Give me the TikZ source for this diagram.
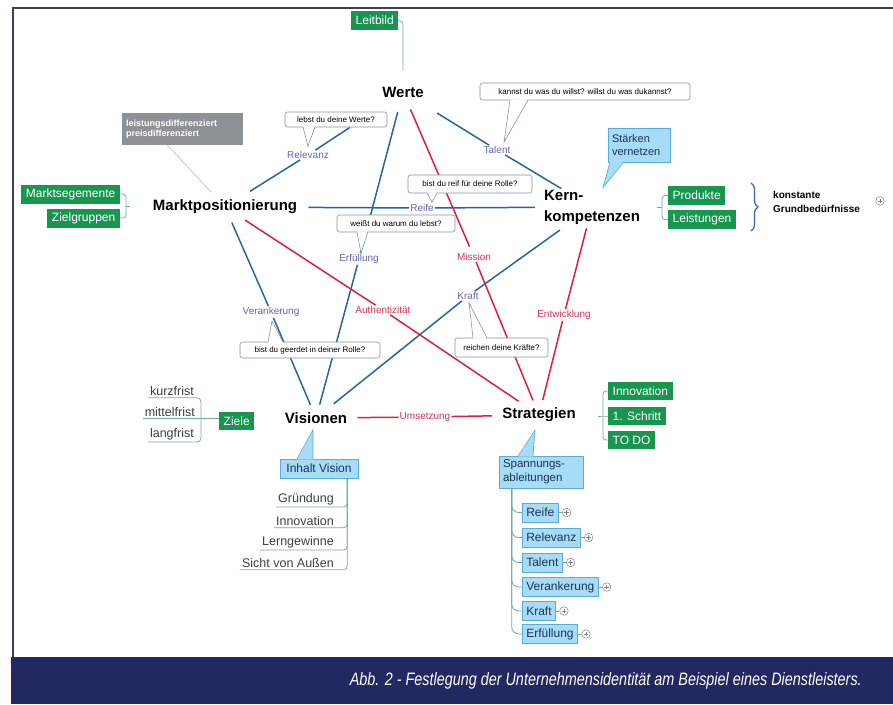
\documentclass[tikz,border=0pt]{standalone}
\usepackage{fontspec}
\setmainfont{Liberation Sans}
\usepackage{graphicx}
\usetikzlibrary{calc,decorations.pathreplacing}
\pgfdeclarelayer{bg}
\pgfsetlayers{bg,main}
\definecolor{navy}{RGB}{34,40,96}
\definecolor{framec}{RGB}{58,62,105}
\definecolor{mmgreen}{RGB}{24,150,80}
\definecolor{lbfill}{RGB}{166,220,246}
\definecolor{lbdraw}{RGB}{90,170,220}
\definecolor{lbtext}{RGB}{30,50,90}
\definecolor{greybox}{RGB}{140,145,150}
\definecolor{lineblue}{RGB}{40,100,160}
\definecolor{linered}{RGB}{225,30,60}
\definecolor{lblblue}{RGB}{100,100,180}
\definecolor{lblred}{RGB}{215,50,80}
\definecolor{callgrey}{RGB}{130,150,160}
\definecolor{treeline}{RGB}{110,175,150}
\definecolor{braceblue}{RGB}{50,100,190}
\definecolor{itemtext}{RGB}{60,60,60}
\begin{document}
\begin{tikzpicture}[x=1pt,y=-1pt,
  topic/.style={font=\bfseries\fontsize{15}{21}\selectfont, inner sep=1pt},
  bl/.style={font=\fontsize{10}{12}\selectfont, text=lblblue, inner sep=1pt},
  rl/.style={font=\fontsize{10}{12}\selectfont, text=lblred, inner sep=1pt},
  callbox/.style={draw=callgrey, fill=white, rounded corners=2.5pt, line width=0.6pt, font=\fontsize{8}{10}\selectfont, inner sep=1pt},
  gbox/.style={fill=mmgreen, text=white, font=\fontsize{12}{14}\selectfont, inner xsep=4.5pt, inner ysep=1pt, minimum height=19pt},
  lbox/.style={fill=lbfill, draw=lbdraw, line width=0.6pt, text=lbtext, font=\fontsize{12}{14}\selectfont, inner xsep=4pt, inner ysep=1pt, minimum height=19pt},
  bline/.style={draw=lineblue, line width=1.5pt},
  rline/.style={draw=linered, line width=1.5pt},
  tree/.style={draw=treeline, line width=0.8pt},
  listitem/.style={text=itemtext, font=\fontsize{12.5}{14}\selectfont, inner sep=2pt},
  plusmark/.style={circle, draw=gray, fill=white, line width=0.5pt, minimum size=8.5pt, inner sep=0pt,
    path picture={\draw[gray,line width=0.5pt] ([xshift=-2.2pt]path picture bounding box.center) -- ([xshift=2.2pt]path picture bounding box.center) ([yshift=-2.2pt]path picture bounding box.center) -- ([yshift=2.2pt]path picture bounding box.center);}},
  ptr/.style={draw=callgrey, line width=0.6pt},
  bptr/.style={draw=lbdraw, line width=0.6pt}
]
\useasboundingbox (0,0) rectangle (893,704);
% frame and caption band
\fill[navy] (11,657) rectangle (893,704);
\draw[framec, line width=2pt] (13,657) -- (13,8) -- (893,8);
\node[anchor=base east, text=white, font=\itshape\fontsize{18}{20}\selectfont, inner sep=0pt] (cap) at (862,685) {\scalebox{0.80}[1]{Abb. 2 - Festlegung der Unternehmensidentität am Beispiel eines Dienstleisters.}};

% main topics
\node[topic] (werte) at (403,92) {Werte};
\node[topic] (mp) at (225,207) {Marktpositionierung};
\node[topic, align=left] (kern) at (592,207) {Kern-\\kompetenzen};
\node[topic] (vis) at (316,418) {Visionen};
\node[topic] (str) at (539,415) {Strategien};

% relationship labels
\node[bl] (relevanz) at (308,155) {Relevanz};
\node[bl] (talent) at (497,150) {Talent};
\node[bl] (reife) at (422,208) {Reife};
\node[bl] (erf) at (359,259) {Erfüllung};
\node[bl] (ver) at (271,312) {Verankerung};
\node[bl] (kraft) at (468,296) {Kraft};
\node[rl] (mission) at (474,257) {Mission};
\node[rl] (auth) at (383,310) {Authentizität};
\node[rl] (entw) at (564,315) {Entwicklung};
\node[rl] (ums) at (425,417) {Umsetzung};

% question callouts
\node[callbox, minimum width=102pt, minimum height=15pt] (lebst) at (336,119.5) {lebst du deine Werte?};
\node[callbox, minimum width=210pt, minimum height=17pt] (kannst) at (585,91.5) {kannst du was du willst? willst du was dukannst?};
\node[callbox, minimum width=124pt, minimum height=18pt] (reifeq) at (470,184) {bist du reif für deine Rolle?};
\node[callbox, minimum width=118pt, minimum height=17pt] (warum) at (396,223.5) {weißt du warum du lebst?};
\node[callbox, minimum width=140pt, minimum height=16pt] (geerdet) at (310,350) {bist du geerdet in deiner Rolle?};
\node[callbox, minimum width=93pt, minimum height=19pt] (kraefte) at (501.5,347.5) {reichen deine Kräfte?};

% grey box
\node[fill=greybox, text=white, font=\bfseries\fontsize{9}{10.5}\selectfont, align=left, text width=113pt, minimum height=32pt, inner sep=4pt] (diff) at (182.5,129) {leistungsdifferenziert\\preisdifferenziert};

% green boxes
\node[gbox, anchor=west] (leitbild) at (351,20.5) {Leitbild};
\node[gbox, anchor=east] (msg) at (120,194) {Marktsegemente};
\node[gbox, anchor=east] (zg) at (120,218) {Zielgruppen};
\node[gbox, anchor=west] (prod) at (668,195.5) {Produkte};
\node[gbox, anchor=west] (leist) at (668,219.5) {Leistungen};
\node[gbox, anchor=west, minimum height=18pt] (ziele) at (219,421) {Ziele};
\node[gbox, anchor=west, minimum height=18pt] (innov) at (608,391) {Innovation};
\node[gbox, anchor=west, minimum height=18pt] (schritt) at (608,416) {1. Schritt};
\node[gbox, anchor=west, minimum height=18pt] (todo) at (608,440) {TO DO};

% konstante Grundbeduerfnisse
\node[font=\bfseries\fontsize{10}{13.5}\selectfont, align=left, anchor=west, inner sep=0pt] (konst) at (773,202) {konstante\\Grundbedürfnisse};
\node[plusmark] (pmk) at (880,201) {};
\draw[braceblue, line width=1.2pt, decorate, decoration={brace, amplitude=7pt}] (751,183) -- (751,231);

% light blue callouts
\node[lbox, align=left, font=\fontsize{11}{13}\selectfont, text width=54pt, minimum height=34pt] (staerken) at (639,145) {Stärken\\vernetzen};
\node[lbox, minimum width=78pt] (ivis) at (319,468.5) {Inhalt Vision};
\node[lbox, align=left, font=\fontsize{11.5}{14}\selectfont, text width=76pt, minimum height=32pt] (spann) at (541,472) {Spannungs-\\ableitungen};

% Spannungsableitungen items
\node[lbox, anchor=west] (s1) at (522,512.5) {Reife};
\node[lbox, anchor=west] (s2) at (522,537.5) {Relevanz};
\node[lbox, anchor=west] (s3) at (522,562.5) {Talent};
\node[lbox, anchor=west] (s4) at (522,587) {Verankerung};
\node[lbox, anchor=west] (s5) at (522,611) {Kraft};
\node[lbox, anchor=west] (s6) at (522,634) {Erfüllung};
\foreach \i in {1,...,6}{
  \node[plusmark] (p\i) at ([xshift=8pt]s\i.east) {};
  \draw[tree] (s\i) -- (p\i);
}

% Ziele items
\node[listitem, anchor=east] (kurz) at (196,391) {kurzfrist};
\node[listitem, anchor=east] (mittel) at (197,412) {mittelfrist};
\node[listitem, anchor=east] (lang) at (196,434) {langfrist};

% Vision items
\node[listitem, anchor=east] (gr) at (336,499) {Gründung};
\node[listitem, anchor=east] (inn) at (336,521) {Innovation};
\node[listitem, anchor=east] (lern) at (336,542) {Lerngewinne};
\node[listitem, anchor=east] (sicht) at (336,563) {Sicht von Außen};

% relationship lines
\begin{pgfonlayer}{bg}
\draw[bline, shorten <=28pt] (werte) -- (talent);
\draw[bline] (talent) -- (kern);
\draw[bline, shorten <=14pt] (mp) -- (relevanz);
\draw[bline] (relevanz) -- ([xshift=14pt]lebst.south);
\draw[bline, shorten <=14pt] (werte) -- (erf);
\draw[bline, shorten >=7pt] (erf) -- (vis);
\draw[bline, shorten <=8pt] (mp) -- (ver);
\draw[bline, shorten >=7pt] (ver) -- (vis);
\draw[bline, shorten <=8pt] (kern) -- (kraft);
\draw[bline, shorten >=12pt] (kraft) -- (vis);
\draw[bline, shorten <=10pt] (mp) -- (reife);
\draw[bline, shorten >=8pt] (reife) -- (kern);
\draw[rline, shorten <=12pt, shorten >=6pt] (werte) -- (mission);
\draw[rline, shorten >=7pt] (mission) -- (str);
\draw[rline, shorten <=9pt] (mp) -- (auth);
\draw[rline, shorten >=10pt] (auth) -- (str);
\draw[rline, shorten <=3pt] (kern) -- (entw);
\draw[rline, shorten >=7pt] (entw) -- (str);
\draw[rline, shorten <=9pt] (vis) -- (ums);
\draw[rline, shorten >=9pt] (ums) -- (str);
\draw[tree, rounded corners=4pt, shorten >=15pt] (leitbild.east) -| (werte.north);
\draw[gray!45, line width=0.8pt, shorten >=9pt] ([xshift=-15pt]diff.south) -- (mp);
\end{pgfonlayer}

% tree brackets
\coordinate (mb) at (126,206);
\draw[tree, rounded corners=3pt] (msg.east) -| (mb) |- (zg.east);
\draw[tree] (mb) -- ++(4,0);
\coordinate (kb) at (662,207.5);
\draw[tree, rounded corners=3pt] (prod.west) -| (kb) |- (leist.west);
\draw[tree] (kb) -- ++(-5,0);
\coordinate (sb) at (603,416);
\draw[tree, rounded corners=3pt] (innov.west) -| (sb) |- (todo.west);
\draw[tree] (schritt.west) -- (sb) -- ++(-5,0);
\coordinate (zx) at (201,420);
\draw[tree, rounded corners=4pt] (kurz.south west) -- (kurz.south -| zx) |- (lang.south west);
\draw[tree] (mittel.south west) -- (mittel.south -| ziele.west);
\coordinate (vx) at ([xshift=-11pt]ivis.south east);
\foreach \n in {gr,inn,lern,sicht}{
  \draw[tree, rounded corners=4pt] (vx) |- (\n.south west);
}
\coordinate (sx) at ([xshift=13pt]spann.south west);
\foreach \i in {1,...,6}{
  \draw[tree, rounded corners=7pt] (sx) |- (s\i.west);
}

% callout pointers (white)
\fill[white] ([xshift=-33pt,yshift=1pt]lebst.south) -- ([yshift=4pt]relevanz.north) -- ([xshift=-21pt,yshift=1pt]lebst.south) -- cycle;
\draw[ptr] ([xshift=-33pt,yshift=0.3pt]lebst.south) -- ([yshift=4pt]relevanz.north) -- ([xshift=-21pt,yshift=0.3pt]lebst.south);
\fill[white] ([xshift=-75pt,yshift=1pt]kannst.south) -- ([xshift=7pt,yshift=3pt]talent.north) -- ([xshift=-57pt,yshift=1pt]kannst.south) -- cycle;
\draw[ptr] ([xshift=-75pt,yshift=0.3pt]kannst.south) -- ([xshift=7pt,yshift=3pt]talent.north) -- ([xshift=-57pt,yshift=0.3pt]kannst.south);
\fill[white] ([xshift=-43pt,yshift=1pt]reifeq.south) -- ([xshift=10pt,yshift=1pt]reife.north) -- ([xshift=-33pt,yshift=1pt]reifeq.south) -- cycle;
\draw[ptr] ([xshift=-43pt,yshift=0.3pt]reifeq.south) -- ([xshift=10pt,yshift=1pt]reife.north) -- ([xshift=-33pt,yshift=0.3pt]reifeq.south);
\fill[white] ([xshift=-39pt,yshift=1pt]warum.south) -- ([xshift=2pt]erf.north) -- ([xshift=-28pt,yshift=1pt]warum.south) -- cycle;
\draw[ptr] ([xshift=-39pt,yshift=0.3pt]warum.south) -- ([xshift=2pt]erf.north) -- ([xshift=-28pt,yshift=0.3pt]warum.south);
\fill[white] ([xshift=-42pt,yshift=-1pt]geerdet.north) rectangle ([xshift=-27pt,yshift=1pt]geerdet.north);
\draw[ptr] ([xshift=-42pt,yshift=-0.3pt]geerdet.north) -- ([xshift=1pt,yshift=-3pt]ver.south) -- ([xshift=-27pt,yshift=-0.3pt]geerdet.north);
\fill[white] ([xshift=-28.5pt,yshift=-1pt]kraefte.north) -- ([xshift=1pt,yshift=-2pt]kraft.south) -- ([xshift=-14.5pt,yshift=-1pt]kraefte.north) -- cycle;
\draw[ptr] ([xshift=-28.5pt,yshift=-0.3pt]kraefte.north) -- ([xshift=1pt,yshift=-2pt]kraft.south) -- ([xshift=-14.5pt,yshift=-0.3pt]kraefte.north);

% callout pointers (blue)
\fill[lbfill] ([xshift=-29pt,yshift=1pt]staerken.south) -- ([xshift=11pt,yshift=1pt]kern.north) -- ([xshift=-15pt,yshift=1pt]staerken.south) -- cycle;
\draw[bptr] ([xshift=-29pt,yshift=0.3pt]staerken.south) -- ([xshift=11pt,yshift=1pt]kern.north) -- ([xshift=-15pt,yshift=0.3pt]staerken.south);
\fill[lbfill] ([xshift=-22pt,yshift=-1pt]ivis.north) -- ([xshift=-3pt,yshift=-5pt]vis.south) -- ([xshift=-6pt,yshift=-1pt]ivis.north) -- cycle;
\draw[bptr] ([xshift=-22pt,yshift=-0.3pt]ivis.north) -- ([xshift=-3pt,yshift=-5pt]vis.south) -- ([xshift=-6pt,yshift=-0.3pt]ivis.north);
\fill[lbfill] ([xshift=-23pt,yshift=-1pt]spann.north) -- ([xshift=-4pt,yshift=-7pt]str.south) -- ([xshift=-8pt,yshift=-1pt]spann.north) -- cycle;
\draw[bptr] ([xshift=-23pt,yshift=-0.3pt]spann.north) -- ([xshift=-4pt,yshift=-7pt]str.south) -- ([xshift=-8pt,yshift=-0.3pt]spann.north);
\end{tikzpicture}
\end{document}
